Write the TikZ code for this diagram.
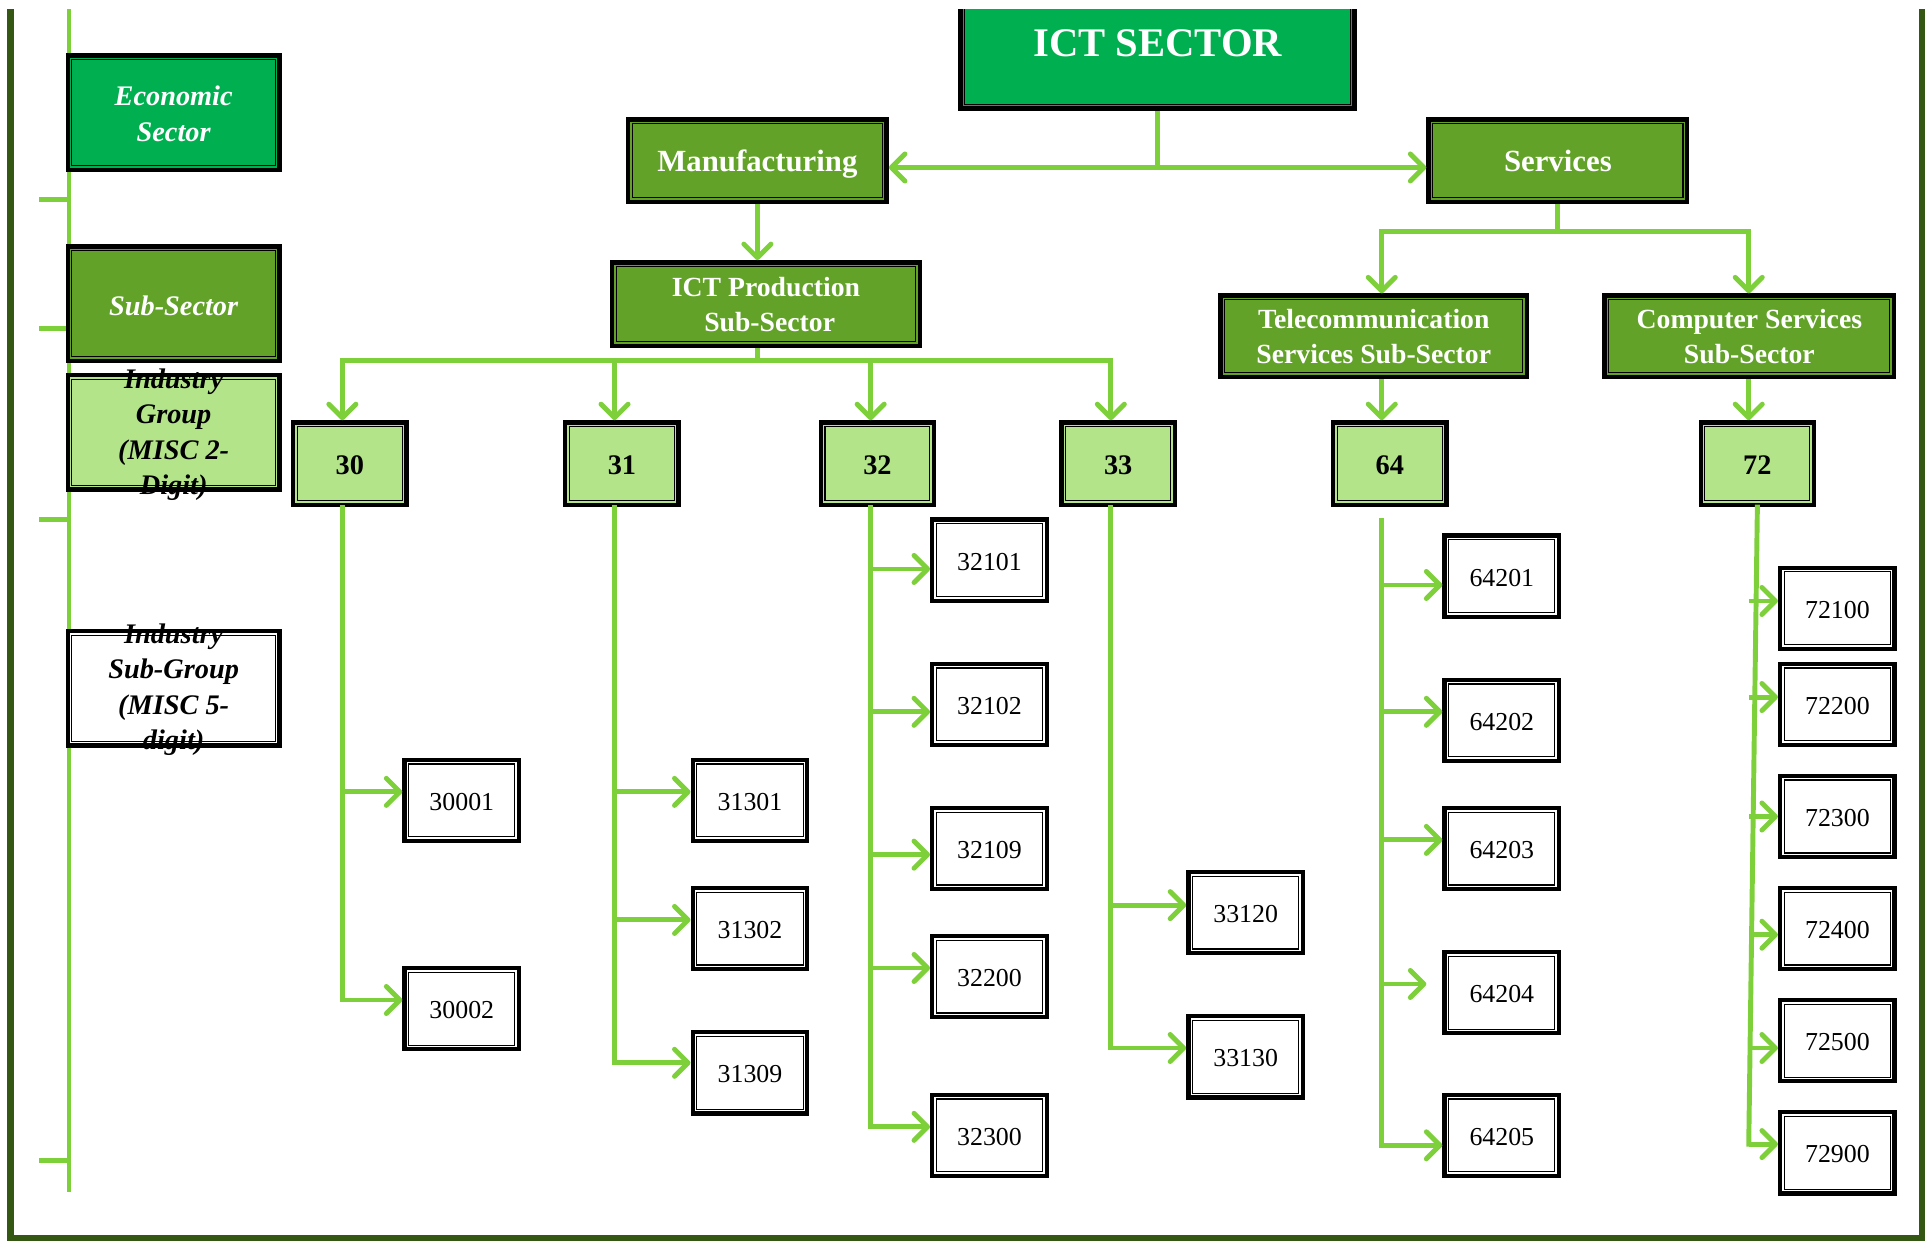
\documentclass[tikz,border=0pt]{standalone}
\usepackage{fontspec}
\setmainfont{Liberation Serif}
\usetikzlibrary{arrows.meta,calc}
\definecolor{lg}{RGB}{125,208,58}
\definecolor{framegreen}{RGB}{52,88,20}
\definecolor{ecogreen}{RGB}{0,176,80}
\definecolor{subgreen}{RGB}{98,162,40}
\definecolor{grpgreen}{RGB}{180,228,138}
\tikzset{
  conn/.style={draw=lg, line width=4pt},
  trunk/.style={draw=lg, line width=4pt, line cap=rect},
  arr/.style={draw=lg, line width=4pt, -{Straight Barb[length=11pt,width=22pt,round]}},
  bx/.style={draw=black, line width=3.6pt, inner sep=0pt, rectangle,
    path picture={\draw[black, line width=0.9pt]
      ([shift={(3.4pt,-3.4pt)}]path picture bounding box.north west) rectangle
      ([shift={(-3.4pt,3.4pt)}]path picture bounding box.south east);}},
  legbox/.style={bx, minimum width=172pt, minimum height=93pt},
  legtxt/.style={align=center, font=\fontsize{23}{28.7}\selectfont\bfseries\itshape, inner sep=0pt},
  bigbox/.style={bx, fill=subgreen, text=white, align=center, text height=17pt, text depth=0pt,
    font=\fontsize{25}{30}\selectfont\bfseries},
  subbox/.style={bx, fill=subgreen, text=white, align=center,
    font=\fontsize{22.5}{28.5}\selectfont\bfseries},
  grpbox/.style={bx, fill=grpgreen, minimum width=92pt, minimum height=67pt,
    text height=18pt, text depth=0pt,
    font=\fontsize{23}{28}\selectfont\bfseries},
  codebox/.style={bx, fill=white, minimum width=93pt, minimum height=66pt,
    text height=16pt, text depth=0pt,
    font=\fontsize{21}{25}\selectfont},
}
\newcommand\mybranch[3]{%
  \path ([yshift=#3pt]#2.west) coordinate (a#2);
  \draw[arr] (a#2 -| #1) -- (a#2);}
\begin{document}
\begin{tikzpicture}[x=1pt,y=-1pt]
\useasboundingbox (0,0) rectangle (1568,1009);
\begin{scope}
\clip (0,7.5) rectangle (1568,1009);
% outer frame
\draw[framegreen, line width=5pt] (8.5,0) -- (8.5,1005.5) -- (1561,1005.5) -- (1561,0);
% legend axis
\coordinate (lt) at (56,0);
\coordinate (lb) at (56,968);
\draw[conn] (lt) -- (lb);
\foreach \yy/\nm in {162/k1,267/k2,422/k3,942/k4}{
  \coordinate (\nm) at (56,\yy);
  \draw[conn] (\nm) -- ++(-24,0);
}
% legend boxes
\node[legbox, fill=ecogreen] (legE) at (141,91.5) {};
\node[legtxt, text=white] (legEt) at (141,92.5) {Economic\\Sector};
\node[legbox, fill=subgreen] (legS) at (141,246.5) {};
\node[legtxt, text=white] (legSt) at (141,248) {Sub-Sector};
\node[legbox, fill=grpgreen] (legG) at (141,351) {};
\node[legtxt, text=black] (legGt) at (141,353) {Industry\\Group\\(MISC 2-\\Digit)};
\node[legbox, fill=white] (legU) at (141,559) {};
\node[legtxt, text=black] (legUt) at (141,560) {Industry\\Sub-Group\\(MISC 5-\\digit)};

% top
\node[bx, fill=ecogreen, minimum width=320pt, minimum height=108pt] (ict) at (940,34) {};
\node[text=white, font=\fontsize{33}{38}\selectfont\bfseries, inner sep=0pt] (ictt) at (940,35) {ICT SECTOR};
\node[bigbox, minimum width=210pt, minimum height=67pt] (manu) at (615,130.5) {Manufacturing};
\node[bigbox, minimum width=210pt, minimum height=67pt] (serv) at (1265,130.5) {Services};
\coordinate (hub) at (940,136);
\draw[conn] (ict.south) -- (hub);
\draw[arr] (hub) -- (hub -| manu.east);
\draw[arr] (hub) -- (hub -| serv.west);

% sub-sectors
\node[subbox, minimum width=250pt, minimum height=68pt] (ictp) at (622,247) {ICT Production\\\hspace*{6pt}Sub-Sector};
\node[subbox, minimum width=249pt, minimum height=66pt] (tele) at (1115.5,273) {Telecommunication\\Services Sub-Sector};
\node[subbox, minimum width=235pt, minimum height=66pt] (comp) at (1420.5,273) {Computer Services\\Sub-Sector};
\draw[arr] (manu.south) -- (manu.south |- ictp.north);
\coordinate (sL) at (1122,188);
\coordinate (sR) at (1420,188);
\draw[conn] (serv.south) -- (serv.south |- sL);
\draw[trunk] (sL) -- (sR);
\draw[arr] (sL) -- (sL |- tele.north);
\draw[arr] (sR) -- (sR |- comp.north);

% industry groups
\node[grpbox] (g30) at (284,376.5) {30};
\node[grpbox] (g31) at (505,376.5) {31};
\node[grpbox] (g32) at (712.5,376.5) {32};
\node[grpbox] (g33) at (908,376.5) {33};
\node[grpbox] (g64) at (1128.5,376.5) {64};
\node[grpbox] (g72) at (1427,376.5) {72};
\coordinate (bus0) at (615,293);
\coordinate (t30) at (278,293);
\coordinate (t31) at (499,293);
\coordinate (t32) at (707,293);
\coordinate (t33) at (902,293);
\draw[conn] (bus0 |- ictp.south) -- (bus0);
\draw[trunk] (t30) -- (t33);
\foreach \t/\g in {t30/g30,t31/g31,t32/g32,t33/g33}{
  \draw[arr] (\t) -- (\t |- \g.north);
}
\draw[arr] (sL |- tele.south) -- (sL |- g64.north);
\draw[arr] (sR |- comp.south) -- (sR |- g72.north);

% sub-groups
\node[codebox] (b30001) at (375,650) {30001};
\node[codebox] (b30002) at (375,819) {30002};
\node[codebox] (b31301) at (609,650) {31301};
\node[codebox] (b31302) at (609,754) {31302};
\node[codebox] (b31309) at (609,871) {31309};
\node[codebox] (b32101) at (803.5,455) {32101};
\node[codebox] (b32102) at (803.5,572) {32102};
\node[codebox] (b32109) at (803.5,689) {32109};
\node[codebox] (b32200) at (803.5,793) {32200};
\node[codebox] (b32300) at (803.5,922) {32300};
\node[codebox] (b33120) at (1011.5,741) {33120};
\node[codebox] (b33130) at (1011.5,858) {33130};
\node[codebox] (b64201) at (1219.5,468) {64201};
\node[codebox] (b64202) at (1219.5,585) {64202};
\node[codebox] (b64203) at (1219.5,689) {64203};
\node[codebox] (b64204) at (1219.5,806) {64204};
\node[codebox] (b64205) at (1219.5,922) {64205};
\node[codebox] (b72100) at (1492,494) {72100};
\node[codebox] (b72200) at (1492,572) {72200};
\node[codebox] (b72300) at (1492,663) {72300};
\node[codebox] (b72400) at (1492,754) {72400};
\node[codebox] (b72500) at (1492,845) {72500};
\node[codebox] (b72900) at (1492,936) {72900};

% 30 series
\mybranch{t30}{b30001}{7}
\mybranch{t30}{b30002}{7}
\draw[trunk] (t30 |- g30.south) -- (t30 |- ab30002);
% 31 series
\mybranch{t31}{b31301}{7}
\mybranch{t31}{b31302}{7}
\mybranch{t31}{b31309}{8}
\draw[trunk] (t31 |- g31.south) -- (t31 |- ab31309);
% 32 series
\mybranch{t32}{b32101}{-7}
\mybranch{t32}{b32102}{-6}
\mybranch{t32}{b32109}{-5}
\mybranch{t32}{b32200}{7}
\mybranch{t32}{b32300}{7}
\draw[trunk] (t32 |- g32.south) -- (t32 |- ab32300);
% 33 series
\mybranch{t33}{b33120}{6}
\mybranch{t33}{b33130}{7}
\draw[trunk] (t33 |- g33.south) -- (t33 |- ab33130);
% 64 series
\coordinate (t64) at (1122,423);
\mybranch{t64}{b64201}{-7}
\mybranch{t64}{b64202}{7}
\mybranch{t64}{b64203}{7}
\path ([xshift=-13pt,yshift=7pt]b64204.west) coordinate (ab64204);
\draw[arr] (ab64204 -| t64) -- (ab64204);
\mybranch{t64}{b64205}{-8}
\draw[trunk] (t64) -- (t64 |- ab64205);
% 72 series
\coordinate (t72) at (1420,929);
\draw[trunk] (g72.south) -- (t72);
\mybranch{t72}{b72100}{6}
\mybranch{t72}{b72200}{6}
\mybranch{t72}{b72300}{0}
\mybranch{t72}{b72400}{-5}
\mybranch{t72}{b72500}{-6}
\mybranch{t72}{b72900}{7}
\end{scope}
\end{tikzpicture}
\end{document}
